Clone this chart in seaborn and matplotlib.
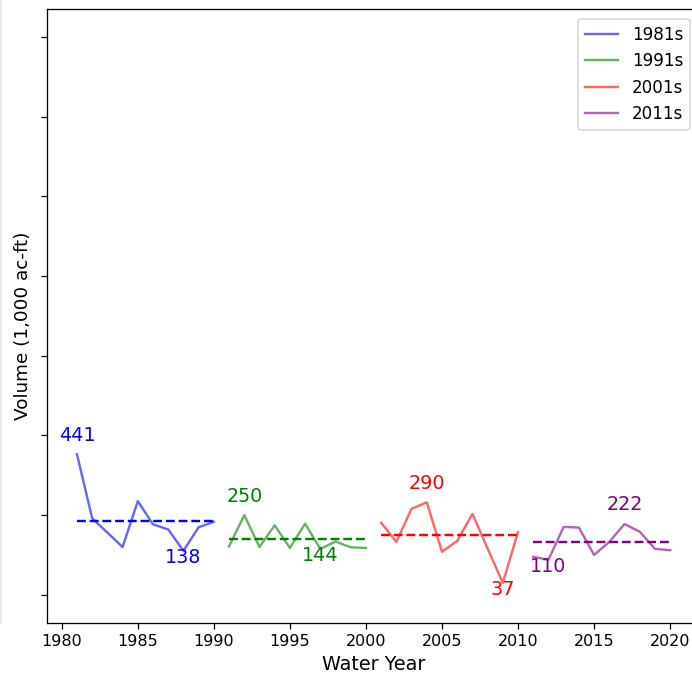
import numpy as np
import pandas as pd
import matplotlib
matplotlib.use("Agg")
import matplotlib.pyplot as plt
from matplotlib.lines import Line2D
import seaborn as sns

# ---- data ----
years_1981s = list(range(1981, 1991))
vol_1981s = [441, 240, 195, 150, 294, 221, 205, 138, 212, 229]
years_1991s = list(range(1991, 2001))
vol_1991s = [152, 250, 150, 218, 147, 223, 144, 167, 149, 147]
years_2001s = list(range(2001, 2011))
vol_2001s = [226, 166, 270, 290, 135, 169, 254, 145, 37, 197]
years_2011s = list(range(2011, 2021))
vol_2011s = [119, 110, 213, 211, 125, 166, 222, 198, 144, 140]

decade_labels = ["1981s", "1991s", "2001s", "2011s"]
decade_colors = ["blue", "green", "red", "purple"]
y_ticks = [0, 250, 500, 750, 1000, 1250, 1500, 1750]
x_ticks = [1980, 1985, 1990, 1995, 2000, 2005, 2010, 2015, 2020]

series = [
    (years_1981s, vol_1981s),
    (years_1991s, vol_1991s),
    (years_2001s, vol_2001s),
    (years_2011s, vol_2011s),
]

DPI = 115
fig = plt.figure(figsize=(692 / DPI, 676 / DPI), dpi=DPI)
ax = fig.add_axes([47.3 / 692, 53.3 / 676, 652.5 / 692, 613.7 / 676])

for (yrs, vals), lab, col in zip(series, decade_labels, decade_colors):
    df = pd.DataFrame({"Water Year": yrs, "Volume": vals})
    sns.lineplot(data=df, x="Water Year", y="Volume", ax=ax, color=col,
                 alpha=0.6, lw=1.5, label=lab)
    m = np.mean(vals)
    ax.hlines(m, yrs[0], yrs[-1], colors=col, linestyles="--", lw=1.5)
    imax = int(np.argmax(vals))
    imin = int(np.argmin(vals))
    ax.annotate(f"{vals[imax]}", (yrs[imax], vals[imax]), xytext=(0, 6),
                textcoords="offset points", ha="center", va="bottom",
                color=col, fontsize=12)
    ax.annotate(f"{vals[imin]}", (yrs[imin], vals[imin]), xytext=(0, 2),
                textcoords="offset points", ha="center", va="top",
                color=col, fontsize=12)

ax.set_xlim(1979.05, 2021.95)
ax.set_ylim(-87.5, 1837.5)
ax.set_xticks(x_ticks)
ax.set_yticks(y_ticks)
ax.set_yticklabels([])
ax.tick_params(labelsize=10)
ax.spines["right"].set_visible(False)
ax.set_xlabel("Water Year", fontsize=12)
ax.set_ylabel("Volume (1,000 ac-ft)", fontsize=11.5)
ax.yaxis.set_label_coords((32 - 47.3) / 652.5, 0.4835)
ax.legend(loc="upper right", fontsize=10.5, borderaxespad=0.6)

fig.add_artist(Line2D([0.5 / 692, 0.5 / 692], [53 / 676, 1.0],
                      color="#e6e6e6", lw=1, transform=fig.transFigure))

fig.savefig("out.png", dpi=DPI)
